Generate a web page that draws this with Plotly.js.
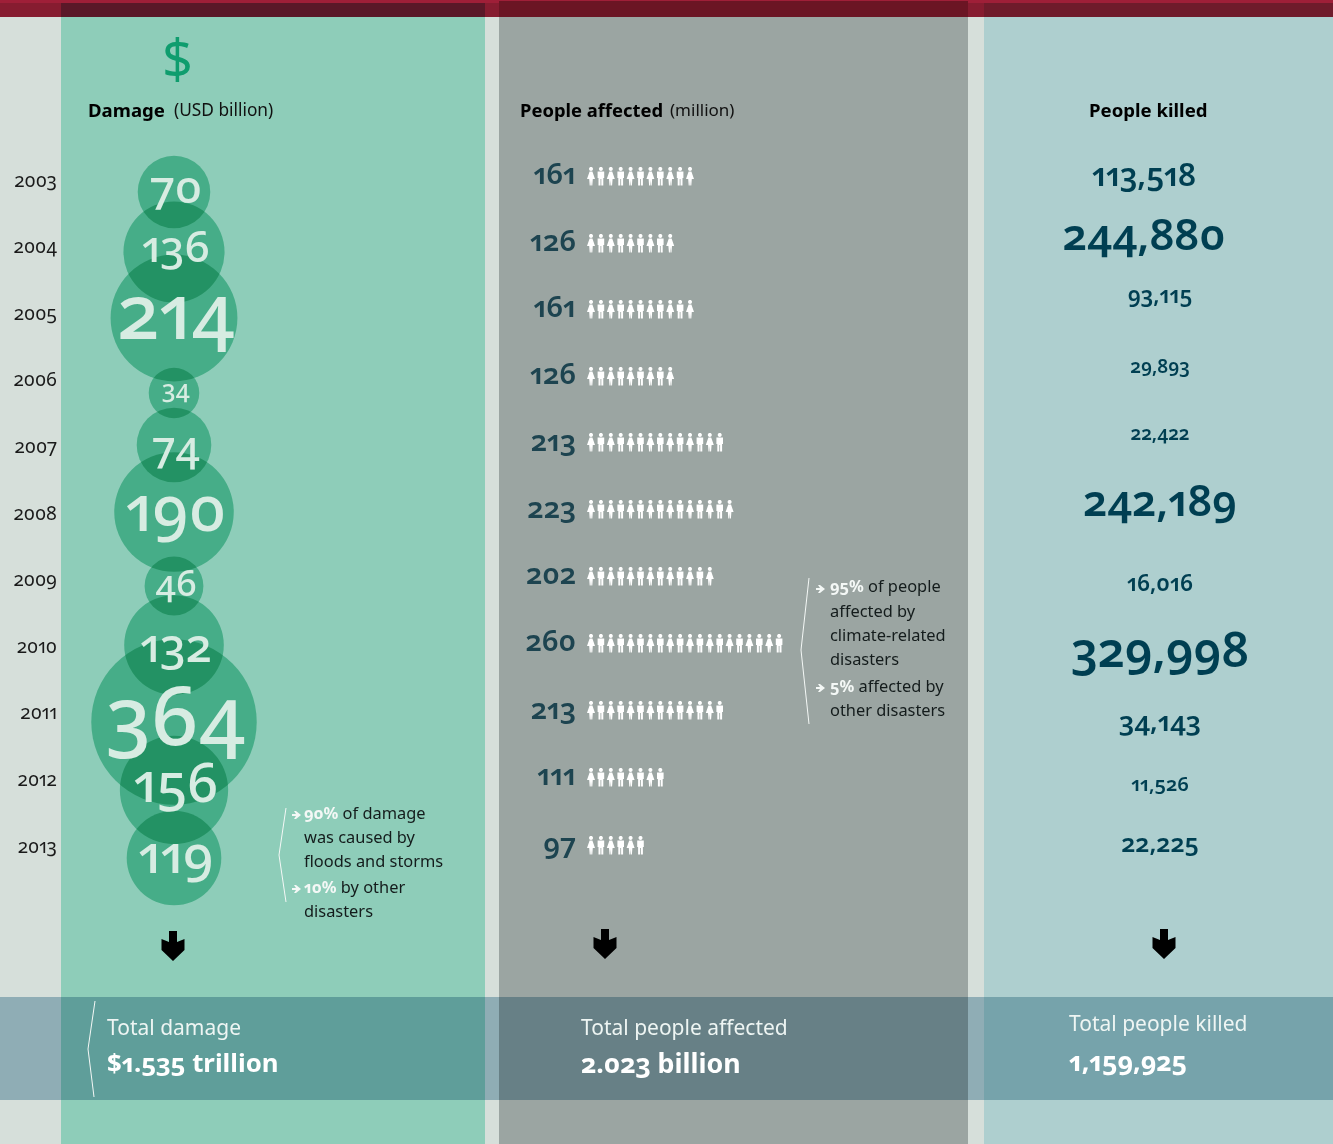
<!DOCTYPE html>
<html>
<head>
<meta charset="utf-8">
<script src="https://cdn.plot.ly/plotly-3.0.1.min.js"></script>
<style>
html,body{margin:0;padding:0;background:#d6dfda;overflow:hidden}
svg text{font-feature-settings:"onum" 1,"pnum" 1;}
.scatterlayer .trace:first-child path.point{mix-blend-mode:multiply}
</style>
</head>
<body>
<div id="chart" style="width:1333px;height:1144px"></div>
<script>
// ---- data ----
const years = [2003,2004,2005,2006,2007,2008,2009,2010,2011,2012,2013];
const damage = [70,136,214,34,74,190,46,132,364,156,119];
const affected = [161,126,161,126,213,223,202,260,213,111,97];
const figuresShown = [11,9,11,9,14,15,13,20,14,8,6];
const killed = [113518,244880,93115,29893,22422,242189,16016,329998,34143,11526,22225];

// ---- styling and placement ----
const W = 1333, H = 1144, ML = 61;
const pxPerYear = 66.6, firstYearPx = 180;
const yearAt = px => 2003 + (px - firstYearPx) / pxPerYear;
const font = '"Noto Sans", sans-serif';
const damageRowPx = [192,252,318,393,445,512,586,645,722,790,858];
const damageLabelPx = [191,251,320,392,451,515,587,650,724,788,860];
const damageFont = [46,44,76,25,43,63,36,47,82,54,53];
const affectedRowPx = [176,243,309,376,442,509,576,643,710,777,845];
const affectedLabelPx = [177,244,310,377,444,511,577,644,712,778,847];
const killedRowPx = [178,239,297,368,435,505,585,655,724,786,846];
const killedCentre = [1144,1144,1160,1160,1160,1160,1160,1160,1160,1160,1160];
const killedFont = [31.5,43.5,22.5,19,19,43,22.5,48,27.5,20,25];
const affectedFont = 29;
const fmt = v => v.toLocaleString('en-US');

const fx = px => (px - ML) / (W - ML);
const fy = px => 1 - px / H;
const rect = (x0, y0, x1, y1, color) => ({type:'rect', xref:'paper', yref:'paper', layer:'below',
  x0:fx(x0), x1:fx(x1), y0:fy(y0), y1:fy(y1), fillcolor:color, line:{width:0}});
const polyline = pts => ({type:'path', xref:'paper', yref:'paper', layer:'above',
  path:'M'+pts.map(p => fx(p[0])+','+fy(p[1])).join(' L'), line:{color:'#f4f8f6', width:1}});
const anchored = (xpx, ypx, path, color) => ({type:'path', layer:'above', xref:'paper', yref:'paper',
  xsizemode:'pixel', ysizemode:'pixel', xanchor:fx(xpx), yanchor:fy(ypx), path, fillcolor:color, line:{width:0}});

const head = 'M-2,7 C-2,9.6 2,9.6 2,7 C2,4.4 -2,4.4 -2,7 Z ';
const woman = head + 'M-1.4,4.4 L1.4,4.4 L4,-3 L1.8,-3 L1.3,-9.5 L0.3,-9.5 L0,-4 L-0.3,-9.5 L-1.3,-9.5 L-1.8,-3 L-4,-3 Z';
const man = head + 'M-3.3,4.4 L3.3,4.4 L3.3,-2 L2.4,-2 L2.4,-9.5 L0.4,-9.5 L0.4,-3 L-0.4,-3 L-0.4,-9.5 L-2.4,-9.5 L-2.4,-2 L-3.3,-2 Z';
const arrow = 'M-4,15 L4,15 L4,4 L11.5,7 L11.5,-4 L0,-15 L-11.5,-4 L-11.5,7 L-4,4 Z';
const pointer = 'M-4,1 L0,1 L-2,4 L0,4 L5,0 L0,-4 L-2,-4 L0,-1 L-4,-1 Z';

const shapes = [
  // columns
  rect(61,0,485,H,'#8ecdb9'), rect(499,0,968,H,'#9ba5a2'), rect(984,0,W,H,'#aecfcf'),
  // top band
  rect(0,0,W,3,'#9f1f38'), rect(0,3,W,17,'#861c30'),
  rect(61,3,485,17,'#5a1828'), rect(499,1,968,17,'#6b1524'), rect(984,3,W,17,'#6f1b2b'),
  // bottom band
  rect(0,997,W,1100,'#8fadb5'), rect(61,997,485,1100,'#5f9e9a'),
  rect(499,997,968,1100,'#678086'), rect(984,997,W,1100,'#76a3ab'),
  // brackets
  polyline([[286,808],[279,855],[286,902]]),
  polyline([[809,578],[801,650],[809,724]]),
  polyline([[95,1001],[88,1049],[94,1097]]),
  // arrows
  anchored(173,946,arrow,'#000'), anchored(605,944,arrow,'#000'), anchored(1164,944,arrow,'#000'),
  // note pointers
  anchored(296,815,pointer,'#f4f8f6'), anchored(296,889,pointer,'#f4f8f6'),
  anchored(820,589,pointer,'#f4f8f6'), anchored(820,688,pointer,'#f4f8f6')
];
figuresShown.forEach((n, r) => {
  for (let i = 0; i < n; i++) {
    shapes.push(anchored(591 + i * 9.9, affectedRowPx[r], i % 2 ? man : woman, '#ffffff'));
  }
});

const note = (x, y, text, size, color, extra) => Object.assign({
  xref:'paper', yref:'paper', x:fx(x-1), y:fy(y-1), xanchor:'left', yanchor:'middle', align:'left',
  text, showarrow:false, font:{family:font, size, color}, borderpad:0
}, extra || {});
const white = s => '<span style="color:#f4f8f6"><b>'+s+'</b></span>';
const dark = '#141c1c';
const noteSize = 16.4;
const annotations = [
  note(178,59,'$',54,'#0f9d6e',{xanchor:'center'}),
  note(88,110,'<b>Damage</b>',18.6,'#000'), note(174,111,'(USD billion)',17.3,'#111'),
  note(520,110,'<b>People affected</b>',18.4,'#000'), note(670,111,'(million)',17,'#111'),
  note(1089,110,'<b>People killed</b>',18.6,'#000'),
  note(304,813,white('90%')+' of damage',noteSize,dark),
  note(304,837,'was caused by',noteSize,dark),
  note(304,861,'floods and storms',noteSize,dark),
  note(304,887,white('10%')+' by other',noteSize,dark),
  note(304,911,'disasters',noteSize,dark),
  note(830,587,white('95%')+' of people',noteSize,dark),
  note(830,611,'affected by',noteSize,dark),
  note(830,635,'climate-related',noteSize,dark),
  note(830,659,'disasters',noteSize,dark),
  note(830,686,white('5%')+' affected by',noteSize,dark),
  note(830,710,'other disasters',noteSize,dark),
  note(107,1028,'Total damage',21,'#eef5f3'),
  note(107,1063,'<b>$1.535 trillion</b>',25.8,'#fff'),
  note(581,1028,'Total people affected',21,'#eef5f3'),
  note(581,1063,'<b>2.023 billion</b>',26.8,'#fff'),
  note(1069,1024,'Total people killed',21,'#eef5f3'),
  note(1069,1061,'<b>1,159,925</b>',26.8,'#fff')
];

const traces = [
  { // damage bubbles, area scaled by value
    type:'scatter', mode:'markers', name:'Damage (USD billion)',
    x:years.map(() => 174), y:damageRowPx.map(yearAt),
    marker:{size:damage, sizemode:'area', sizeref:0.0266, sizemin:0, color:'#7ed8bb', line:{width:0}, opacity:1},
    cliponaxis:false, hoverinfo:'skip'
  },
  { // damage value labels
    type:'scatter', mode:'text', name:'Damage labels',
    x:years.map(() => 176), y:damageLabelPx.map(yearAt),
    text:damage.map(String), textposition:'middle center',
    textfont:{family:font, size:damageFont, color:'#d7ece2', weight:500}, cliponaxis:false, hoverinfo:'skip'
  },
  { // people affected numbers
    type:'scatter', mode:'text', name:'People affected (million)',
    x:years.map(() => 576), y:affectedLabelPx.map(yearAt),
    text:affected.map(String), textposition:'middle left',
    textfont:{family:font, size:affectedFont, color:'#1d4450', weight:600}, cliponaxis:false, hoverinfo:'skip'
  },
  { // people killed numbers
    type:'scatter', mode:'text', name:'People killed',
    x:killedCentre, y:killedRowPx.map(yearAt),
    text:killed.map(fmt), textposition:'middle center',
    textfont:{family:font, size:killedFont, color:'#003f52', weight:600}, cliponaxis:false, hoverinfo:'skip'
  }
];

const layout = {
  width:W, height:H, showlegend:false,
  margin:{l:ML, r:0, t:0, b:0, pad:0},
  paper_bgcolor:'#d6dfda', plot_bgcolor:'rgba(0,0,0,0)',
  xaxis:{range:[ML,W], visible:false, fixedrange:true},
  yaxis:{
    range:[yearAt(H), yearAt(0)], tickmode:'array', tickvals:years, ticktext:years.map(String),
    showgrid:false, zeroline:false, showline:false, ticks:'', ticklen:0, ticklabelstandoff:3,
    tickfont:{family:font, size:19, color:'#1a1a1a'}, fixedrange:true
  },
  shapes, annotations
};
Plotly.newPlot('chart', traces, layout, {displayModeBar:false, staticPlot:true});
</script>
</body>
</html>
